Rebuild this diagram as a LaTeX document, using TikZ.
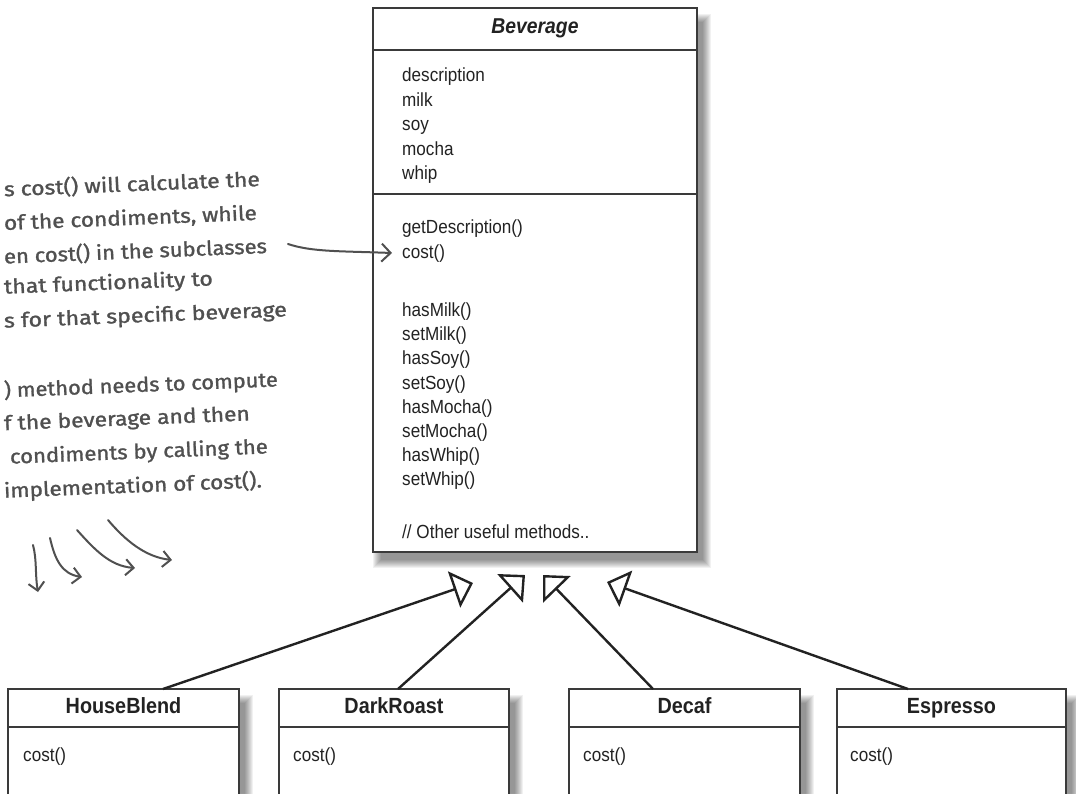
\documentclass[tikz,border=0pt]{standalone}
\usepackage{fontspec}
\setmainfont{Liberation Sans}
\newfontfamily\umlfont[FakeStretch=0.9]{Liberation Sans}
\newfontfamily\handfont[FakeBold=1.2]{Fira Sans}
\usetikzlibrary{arrows.meta,calc}
\definecolor{ink}{HTML}{222222}
\definecolor{hand}{HTML}{505050}
\definecolor{frame}{HTML}{3a3a3a}
\newcommand{\hwline}[2]{\resizebox{#1}{17pt}{\handfont\vphantom{()}#2}}
\newcommand{\boxshadow}[4]{%
  \foreach \k in {0,...,8}{%
    \fill[black,opacity=0.055] ({#1+\k},{#2+6+\k}) rectangle ({#3+14-\k},{#4+16-\k});}}
\begin{document}
\begin{tikzpicture}[x=1pt,y=-1pt,
  classbox/.style={draw=frame, line width=1.4pt, fill=white, inner sep=0pt, outer sep=0pt, anchor=north west},
  member/.style={inner sep=0pt, anchor=base west, text=ink, font=\umlfont\fontsize{19}{19}\selectfont},
  classname/.style={inner sep=0pt, anchor=base, text=ink, font=\umlfont\bfseries\fontsize{22}{22}\selectfont},
  sepline/.style={draw=frame, line width=1.4pt},
  inherit/.style={draw=ink, line width=2.4pt, -{Triangle[open, length=20pt, width=38pt, line width=2.4pt]}},
  note/.style={inner sep=0pt, anchor=east, text=hand, rotate=2.3},
  handarrow/.style={draw=hand, line width=2pt, line cap=round, -{Straight Barb[length=9pt, width=18pt, line width=2pt]}},
  smallhand/.style={handarrow, -{Straight Barb[length=8pt, width=16pt, line width=2pt]}}
]
\useasboundingbox (0,0) rectangle (1076,793);
\clip (0,0) rectangle (1076,793);
\fill[white] (0,0) rectangle (1076,793);

% shadows
\boxshadow{373}{8}{697}{552}
\boxshadow{8}{689}{239}{820}
\boxshadow{279}{689}{509}{820}
\boxshadow{569}{689}{800}{820}
\boxshadow{837}{689}{1066}{820}

% Beverage class
\node[classbox, minimum width=324pt, minimum height=544pt] (bev) at (373,8) {};
\draw[sepline] (bev.west |- 0,50) -- (bev.east |- 0,50);
\draw[sepline] (bev.west |- 0,194) -- (bev.east |- 0,194);
\node[classname, font=\umlfont\bfseries\itshape\fontsize{21.5}{21.5}\selectfont] (bevname) at (535,33) {Beverage};
\node[member] (mdesc)  at (402,81.5)  {description};
\node[member] (mmilk)  at (402,106)   {milk};
\node[member] (msoy)   at (402,130.5) {soy};
\node[member] (mmocha) at (402,155)   {mocha};
\node[member] (mwhip)  at (402,179.5) {whip};
\node[member] (mgetd)  at (402,233.5) {getDescription()};
\node[member] (mcost)  at (402,258)   {cost()};
\node[member] (mhm)    at (402,316.5) {hasMilk()};
\node[member] (msm)    at (402,340.5) {setMilk()};
\node[member] (mhs)    at (402,364.5) {hasSoy()};
\node[member] (mss)    at (402,389)   {setSoy()};
\node[member] (mhmo)   at (402,413)   {hasMocha()};
\node[member] (msmo)   at (402,437)   {setMocha()};
\node[member] (mhw)    at (402,461)   {hasWhip()};
\node[member] (msw)    at (402,485.5) {setWhip()};
\node[member] (mother) at (402,538.5) {// Other useful methods..};

% subclasses
\node[classbox, minimum width=231pt, minimum height=130pt] (hb) at (8,689) {};
\node[classbox, minimum width=230pt, minimum height=130pt] (dr) at (279,689) {};
\node[classbox, minimum width=231pt, minimum height=130pt] (dc) at (569,689) {};
\node[classbox, minimum width=229pt, minimum height=130pt] (es) at (837,689) {};
\foreach \b in {hb,dr,dc,es}{\draw[sepline] (\b.west |- 0,727) -- (\b.east |- 0,727);}
\node[classname] (hbname) at ($(hb.north)+(0,24)$) {HouseBlend};
\node[classname] (drname) at ($(dr.north)+(0,24)$) {DarkRoast};
\node[classname] (dcname) at ($(dc.north)+(0,24)$) {Decaf};
\node[classname] (esname) at ($(es.north)+(0,24)$) {Espresso};
\node[member] (hbcost) at ($(hb.north west)+(15,72)$) {cost()};
\node[member] (drcost) at ($(dr.north west)+(14,72)$) {cost()};
\node[member] (dccost) at ($(dc.north west)+(14,72)$) {cost()};
\node[member] (escost) at ($(es.north west)+(13,72)$) {cost()};

% inheritance arrows
\coordinate (tipHB) at (473,583);
\coordinate (tipDR) at (525,575);
\coordinate (tipDC) at (543,575);
\coordinate (tipES) at (607,582);
\draw[inherit] ([xshift=155pt]hb.north west) -- (tipHB);
\draw[inherit] ([xshift=119pt]dr.north west) -- (tipDR);
\draw[inherit] ([xshift=84pt]dc.north west) -- (tipDC);
\draw[inherit] ([xshift=71pt]es.north west) -- (tipES);

% handwritten notes
\node[note] (n1) at (260,179) {\hwline{256pt}{s cost() will calculate the}};
\node[note] (n2) at (257,213) {\hwline{253pt}{of the condiments, while}};
\node[note] (n3) at (267,246) {\hwline{263pt}{en cost() in the subclasses}};
\node[note] (n4) at (213,279) {\hwline{209pt}{that functionality to}};
\node[note] (n5) at (287,310) {\hwline{283pt}{s for that specific beverage}};
\node[note] (m1) at (278,380) {\hwline{274pt}{) method needs to compute}};
\node[note] (m2) at (250,414) {\hwline{246pt}{f the beverage and then}};
\node[note] (m3) at (268,447) {\hwline{258pt}{condiments by calling the}};
\node[note] (m4) at (262,481) {\hwline{258pt}{implementation of cost().}};

% note arrows
\coordinate (costfrom) at (288,244);
\coordinate (costtip) at (392,253);
\draw[handarrow] (costfrom) .. controls (312,252) and (340,251) .. (costtip);
\coordinate (c1a) at (33,545);  \coordinate (c1b) at (38,592);
\coordinate (c2a) at (50,538);  \coordinate (c2b) at (82,577);
\coordinate (c3a) at (77,530);  \coordinate (c3b) at (135,568);
\coordinate (c4a) at (108,520); \coordinate (c4b) at (172,560);
\draw[smallhand] (c1a) .. controls (37,560) and (35,575) .. (c1b);
\draw[smallhand] (c2a) .. controls (55,560) and (62,574) .. (c2b);
\draw[smallhand] (c3a) .. controls (95,550) and (110,566) .. (c3b);
\draw[smallhand] (c4a) .. controls (125,540) and (145,557) .. (c4b);
\end{tikzpicture}
\end{document}
